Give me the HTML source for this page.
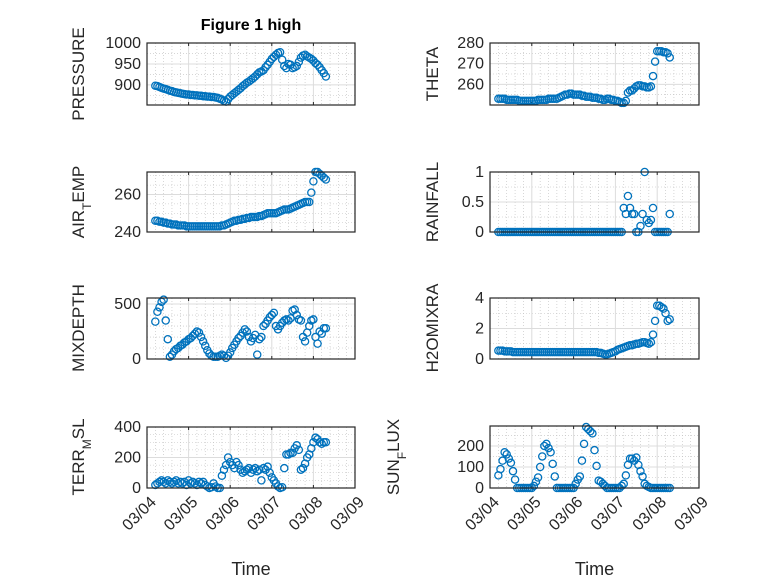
<!DOCTYPE html>
<html><head><meta charset="utf-8"><style>
html,body{margin:0;padding:0;background:#fff}
svg{display:block}
text{font-family:"Liberation Sans","DejaVu Sans",sans-serif;fill:#262626}
</style></head><body>
<svg id="fig" width="778" height="583" viewBox="0 0 778 583" xmlns="http://www.w3.org/2000/svg">
<rect x="0" y="0" width="778" height="583" fill="#fff"/>
<text x="251" y="30" text-anchor="middle" font-size="16" font-weight="bold" style="fill:#000">Figure 1 high</text>
</svg>
<script>
// shared time axis (day of March)
const times = [
4.20,4.25,4.30,4.35,4.40,4.45,4.50,4.55,4.60,4.65,
4.70,4.75,4.80,4.85,4.90,4.95,5.00,5.05,5.10,5.15,
5.20,5.25,5.30,5.35,5.40,5.45,5.50,5.55,5.60,5.65,
5.70,5.75,5.80,5.85,5.90,5.95,6.00,6.05,6.10,6.15,
6.20,6.25,6.30,6.35,6.40,6.45,6.50,6.55,6.60,6.65,
6.70,6.75,6.80,6.85,6.90,6.95,7.00,7.05,7.10,7.15,
7.20,7.25,7.30,7.35,7.40,7.45,7.50,7.55,7.60,7.65,
7.70,7.75,7.80,7.85,7.90,7.95,8.00,8.05,8.10,8.15,
8.20,8.25,8.30];
const xTickDays = [4,5,6,7,8,9];
const xTickLabels = ["03/04","03/05","03/06","03/07","03/08","03/09"];
const pressure = [
898,897,895,893,891,890,888,886,885,883,
882,881,880,879,878,877,877,876,876,875,
875,874,874,873,873,872,872,871,871,870,
869,867,865,862,860,866,872,876,880,884,
888,892,897,901,905,908,912,916,920,925,
930,932,935,942,948,955,962,967,972,976,
978,960,945,940,950,948,940,942,945,955,
965,970,972,968,965,962,958,952,948,942,
935,928,920];
const airTemp = [
246,246,245.5,245.5,245,245,244.5,244.5,244,244,
244,243.5,243.5,243.5,243.5,243,243,243,243,243,
243,243,243,243,243,243,243,243,243,243,
243,243,243.5,243.5,244,244.5,245,245.5,246,246,
246.5,246.5,247,247,247.5,247.5,248,248,248,248,
248.5,248.5,249,249.5,250,250,250,250,250,250.5,
251,251.5,252,252,252,252.5,253,253.5,254,254.5,
255,255.5,256,256,256,261,267,272,272,271,
270,269,268];
const mixDepth = [
340,430,470,520,540,350,180,20,40,70,
90,100,120,130,150,160,180,190,210,230,
250,240,200,160,120,80,50,30,20,20,
20,30,40,30,10,30,60,100,130,160,
190,210,240,270,250,200,160,190,220,40,
180,200,300,320,350,380,400,420,300,270,
300,330,350,360,350,370,440,450,400,360,
350,200,160,240,300,350,360,200,140,250,
230,280,280];
const terrMsl = [
20,30,40,50,40,30,50,40,30,40,
50,30,40,30,40,20,50,30,40,30,
20,40,30,40,20,10,0,5,30,10,
0,0,80,120,150,200,170,150,130,170,
150,120,100,110,120,130,100,120,130,110,
120,50,130,120,140,100,70,50,30,10,
0,5,130,220,220,230,230,260,280,250,
120,130,160,200,220,260,300,330,320,300,
290,300,300];
const theta = [
253,253,253,253,252.5,252.5,252.5,252.5,252.5,252.5,
252,252,252,252,252,252,252,252,252,252.5,
252.5,252.5,252.5,252.5,253,253,253,253,253,253.5,
254,254.5,255,255,255.5,255.5,255,255,255,255,
254.5,254.5,254,254,254,253.5,253.5,253.5,253,253,
252.5,252.5,253,253,252.5,252.5,252,252,251.5,251,
251,252,256,257,257,258,259,259.5,259.5,259,
259,258.5,258.5,259,264,271,276,276,276,275.5,
275.5,275,273];
const rainfall = [
0,0,0,0,0,0,0,0,0,0,
0,0,0,0,0,0,0,0,0,0,
0,0,0,0,0,0,0,0,0,0,
0,0,0,0,0,0,0,0,0,0,
0,0,0,0,0,0,0,0,0,0,
0,0,0,0,0,0,0,0,0,0,
0.4,0.3,0.6,0.4,0.3,0.3,0,0,0.1,0.3,
1.0,0.2,0.15,0.2,0.4,0,0,0,0,0,
0,0,0.3];
const h2oMix = [
0.55,0.55,0.55,0.5,0.5,0.5,0.5,0.45,0.45,0.45,
0.45,0.45,0.45,0.45,0.45,0.45,0.45,0.45,0.45,0.45,
0.45,0.45,0.45,0.45,0.45,0.45,0.45,0.45,0.45,0.45,
0.45,0.45,0.45,0.45,0.45,0.45,0.45,0.45,0.45,0.45,
0.45,0.45,0.45,0.45,0.45,0.45,0.45,0.45,0.4,0.4,
0.35,0.3,0.3,0.35,0.4,0.45,0.5,0.6,0.65,0.7,
0.75,0.8,0.85,0.9,0.9,0.95,1.0,1.0,1.05,1.1,
1.1,1.05,1.0,1.1,1.6,2.5,3.5,3.5,3.4,3.3,
3.0,2.5,2.6];
const sunFlux = [
60,90,130,170,160,140,120,80,40,0,
0,0,0,0,0,0,0,10,30,50,
100,150,200,210,190,170,115,55,0,0,
0,0,0,0,0,0,0,20,40,55,
130,210,290,280,270,260,180,105,35,30,
20,10,0,0,0,0,0,0,0,10,
20,60,110,140,140,130,145,110,80,55,
20,10,5,0,0,0,0,0,0,0,
0,0,0];

const NS = "http://www.w3.org/2000/svg";
const svg = document.getElementById('fig');
function mk(tag, attrs, parent) {
  const e = document.createElementNS(NS, tag);
  for (const k in attrs) e.setAttribute(k, attrs[k]);
  (parent || svg).appendChild(e);
  return e;
}
const panels = [
  {name:'pressure', data:pressure, x0:147, x1:355, y0:43, y1:105, ymin:852, ymax:1000, ticks:[900,950,1000], minor:[875,925,975], label:['PRESSURE'], lx:78, ly:74, showX:false},
  {name:'air-temp', data:airTemp, x0:147, x1:355, y0:172, y1:232, ymin:240, ymax:272, ticks:[240,260], minor:[245,250,255,265,270], label:['AIR','T','EMP'], lx:78, ly:202, showX:false},
  {name:'mixdepth', data:mixDepth, x0:147, x1:355, y0:298, y1:359, ymin:0, ymax:555, ticks:[0,500], minor:[100,200,300,400], label:['MIXDEPTH'], lx:78, ly:328, showX:false},
  {name:'terr-msl', data:terrMsl, x0:147, x1:355, y0:427, y1:488, ymin:0, ymax:400, ticks:[0,200,400], minor:[50,100,150,250,300,350], label:['TERR','M','SL'], lx:78, ly:457, showX:true},
  {name:'theta', data:theta, x0:490, x1:699, y0:43, y1:105, ymin:250, ymax:280, ticks:[260,270,280], minor:[255,265,275], label:['THETA'], lx:432, ly:74, showX:false},
  {name:'rainfall', data:rainfall, x0:490, x1:699, y0:172, y1:232, ymin:0, ymax:1, ticks:[0,0.5,1], minor:[0.25,0.75], label:['RAINFALL'], lx:432, ly:202, showX:false},
  {name:'h2o-mix', data:h2oMix, x0:490, x1:699, y0:298, y1:359, ymin:0, ymax:4, ticks:[0,2,4], minor:[1,3], label:['H2OMIXRA'], lx:432, ly:328, showX:false},
  {name:'sun-flux', data:sunFlux, x0:490, x1:699, y0:426, y1:488, ymin:0, ymax:295, ticks:[0,100,200], minor:[50,150,250], label:['SUN','F','LUX'], lx:393, ly:457, showX:true}
];
panels.forEach(p => {
  const g = mk('g', {});
  
  
  const xs = d => p.x0 + (d - 4) / 5 * (p.x1 - p.x0);
  const ys = v => p.y1 - (v - p.ymin) / (p.ymax - p.ymin) * (p.y1 - p.y0);
  for (let d = 4; d < 9; d++) for (let k = 1; k < 5; k++) {
    const x = xs(d + k / 5);
    mk('line', {x1:x, x2:x, y1:p.y0, y2:p.y1, stroke:'#bdbdbd', 'stroke-width':0.6, 'stroke-dasharray':'1 2'}, g);
  }
  p.minor.forEach(v => { const y = ys(v);
    mk('line', {x1:p.x0, x2:p.x1, y1:y, y2:y, stroke:'#bdbdbd', 'stroke-width':0.6, 'stroke-dasharray':'1 2'}, g); });
  xTickDays.forEach(d => { const x = xs(d);
    mk('line', {x1:x, x2:x, y1:p.y0, y2:p.y1, stroke:'#dcdcdc', 'stroke-width':1}, g);
    mk('line', {x1:x, x2:x, y1:p.y1, y2:p.y1 - 3, stroke:'#262626', 'stroke-width':1}, g);
    mk('line', {x1:x, x2:x, y1:p.y0, y2:p.y0 + 3, stroke:'#262626', 'stroke-width':1}, g); });
  p.ticks.forEach(v => { const y = ys(v);
    mk('line', {x1:p.x0, x2:p.x1, y1:y, y2:y, stroke:'#dcdcdc', 'stroke-width':1}, g);
    const t = mk('text', {x:p.x0 - 6, y:y + 5, 'text-anchor':'end', 'font-size':16}, g);
    
    
    t.textContent = String(v); });
  times.forEach((d, i) => {
    const c = mk('circle', {cx:xs(d), cy:ys(p.data[i]), r:3.6, fill:'none', stroke:'#0072BD', 'stroke-width':1.3}, g);
    
    
  });
  const box = mk('rect', {x:p.x0, y:p.y0, width:p.x1 - p.x0, height:p.y1 - p.y0, fill:'none', stroke:'#262626', 'stroke-width':1.2}, g);
  
  
  const lab = mk('text', {x:0, y:0, 'text-anchor':'middle', 'font-size':17, transform:'translate(' + p.lx + ',' + p.ly + ') rotate(-90) translate(0,6)'}, g);
  
  
  p.label.forEach((s, k) => {
    const ts = mk('tspan', {}, lab);
    if (k === 1) { ts.setAttribute('baseline-shift', 'sub'); ts.setAttribute('font-size', '12'); }
    ts.textContent = s;
  });
  if (p.showX) {
    xTickDays.forEach((d, i) => {
      const t = mk('text', {x:0, y:0, 'text-anchor':'end', 'font-size':16, transform:'translate(' + (xs(d) + 10) + ',' + (p.y1 + 15) + ') rotate(-45)'}, g);
      
      
      t.textContent = xTickLabels[i];
    });
    const xt = mk('text', {x:(p.x0 + p.x1) / 2, y:575, 'text-anchor':'middle', 'font-size':18}, g);
    
    
    xt.textContent = 'Time';
  }
});
</script>
</body></html>
